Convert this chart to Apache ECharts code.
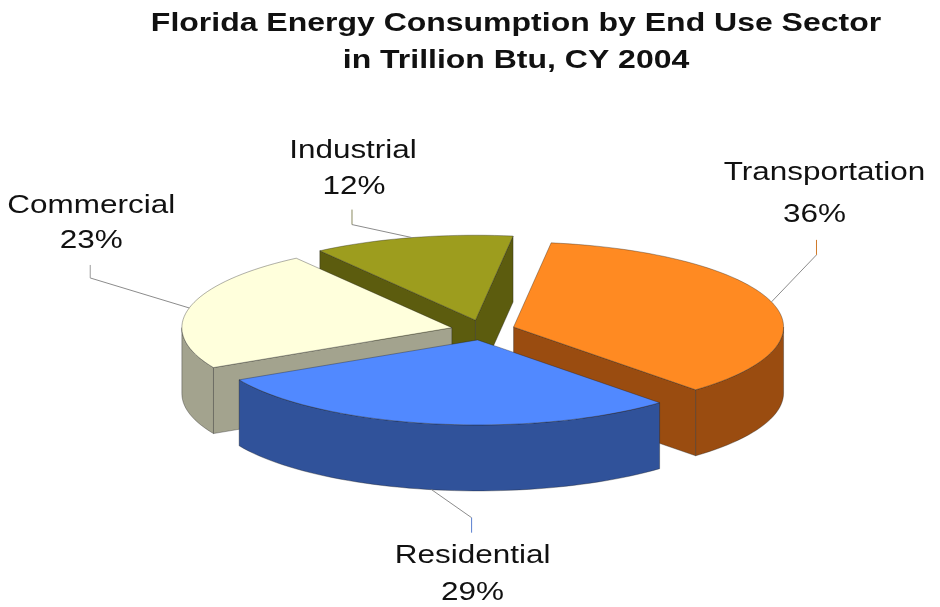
<!DOCTYPE html>
<html>
<head>
<meta charset="utf-8">
<style>
  html, body { margin: 0; padding: 0; background: #fff; }
  #chart { width: 940px; height: 607px; }
</style>
<script src="https://cdn.jsdelivr.net/npm/echarts@6/dist/echarts.min.js"></script>
</head>
<body>
<div id="chart"></div>
<script>
const titleLines = ['Florida Energy Consumption by End Use Sector', 'in Trillion Btu, CY 2004'];
const sectors = ['Transportation', 'Residential', 'Commercial', 'Industrial'];
const shares = [36, 29, 23, 12];

const topColors = ['#ff8a22', '#5189ff', '#ffffdc', '#9d9d1e'];
const sideColors = ['#9a4c10', '#30529a', '#a3a38e', '#5c5c0e'];
const stubColors = ['#d07a2a', '#5a7fd0', '#9a9a9a', '#8a8a60'];

// label placement: elbow offset from slice edge, stub length, text offsets from stub end
const labelLayout = [
  { elbow: [45, -47], stub: -15, name: [8, -67], pct: [-2, -25] },
  { elbow: [40, 28], stub: 15, name: [1, 23], pct: [1, 60] },
  { elbow: [-99, -30], stub: -13, name: [1, -59], pct: [1, -24] },
  { elbow: [-60, -13], stub: -15, name: [1, -59], pct: [2, -23] }
];

const pie = { cx: 483, cy: 330, rx: 270, ry: 85, depth: 66, explode: 32, startAngle: 82 };
const font = '"Liberation Sans", Arial, sans-serif';
const stretch = 1.21;

const total = shares.reduce((a, b) => a + b, 0);
const starts = [];
let acc = pie.startAngle;
shares.forEach(v => { starts.push(acc); acc -= v / total * 360; });

const rad = Math.PI / 180;
// back slices first
const order = shares.map((v, i) => i).sort((a, b) => {
  const ma = starts[a] - shares[a] / total * 180, mb = starts[b] - shares[b] / total * 180;
  return Math.sin(mb * rad) - Math.sin(ma * rad);
});
const rank = [];
order.forEach((idx, r) => { rank[idx] = r; });

function renderSlice(params, api) {
  const i = params.dataIndex;
  const val = api.value(0);
  const hi = starts[i];
  const lo = hi - val / total * 360;
  const mid = (hi + lo) / 2;
  const k = pie.ry / pie.rx;
  const ax = pie.cx + pie.explode * Math.cos(mid * rad);
  const ay = pie.cy - pie.explode * k * Math.sin(mid * rad);
  const rim = (a, dz) => [ax + pie.rx * Math.cos(a * rad), ay - pie.ry * Math.sin(a * rad) + (dz || 0)];
  const arc = (a0, a1, dz) => {
    const n = Math.max(2, Math.ceil(Math.abs(a1 - a0) / 2));
    const pts = [];
    for (let j = 0; j <= n; j++) pts.push(rim(a0 + (a1 - a0) * j / n, dz));
    return pts;
  };
  const z = rank[i] * 10;
  const edge = { stroke: 'rgba(30,30,30,0.5)', lineWidth: 0.7 };
  const side = Object.assign({ fill: sideColors[i] }, edge);
  const kids = [];
  const d = pie.depth;

  if (Math.cos(hi * rad) < 0) {
    kids.push({ type: 'polygon', z2: z, shape: { points: [[ax, ay], rim(hi), rim(hi, d), [ax, ay + d]] }, style: side });
  }
  if (Math.cos(lo * rad) > 0) {
    kids.push({ type: 'polygon', z2: z, shape: { points: [[ax, ay], rim(lo), rim(lo, d), [ax, ay + d]] }, style: side });
  }
  for (let m = -2; m <= 1; m++) {
    const f0 = Math.min(hi, 360 * m), f1 = Math.max(lo, 360 * m - 180);
    if (f0 > f1) {
      kids.push({ type: 'polygon', z2: z + 1, shape: { points: arc(f0, f1, 0).concat(arc(f1, f0, d)) }, style: side });
    }
  }
  kids.push({
    type: 'polygon', z2: z + 2,
    shape: { points: [[ax, ay]].concat(arc(hi, lo, 0)) },
    style: Object.assign({ fill: topColors[i] }, edge)
  });

  // leader line and label
  const lay = labelLayout[i];
  const anchor = rim(mid, Math.sin(mid * rad) < 0 ? d : 0);
  const elbow = [anchor[0] + lay.elbow[0], anchor[1] + lay.elbow[1]];
  const end = [elbow[0], elbow[1] + lay.stub];
  kids.push({ type: 'polyline', z2: 100, shape: { points: [anchor, elbow] }, style: { stroke: '#8c8c8c', lineWidth: 1, fill: null } });
  kids.push({ type: 'polyline', z2: 100, shape: { points: [elbow, end] }, style: { stroke: stubColors[i], lineWidth: 1, fill: null } });
  const txt = (s, off) => ({
    type: 'text', z2: 101,
    x: end[0] + off[0], y: end[1] + off[1], scaleX: stretch,
    style: { text: s, fontSize: 26, fontFamily: font, fill: '#111', align: 'center', verticalAlign: 'middle' }
  });
  kids.push(txt(sectors[i], lay.name));
  kids.push(txt(shares[i] + '%', lay.pct));

  return { type: 'group', children: kids };
}

const chart = echarts.init(document.getElementById('chart'));
chart.setOption({
  animation: false,
  backgroundColor: '#fff',
  graphic: titleLines.map((t, j) => ({
    type: 'text',
    x: 516, y: 24 + j * 37, scaleX: 1.23,
    style: { text: t, fontSize: 26, fontWeight: 'bold', fontFamily: font, fill: '#111', align: 'center', verticalAlign: 'middle' }
  })),
  series: [{
    type: 'custom',
    coordinateSystem: 'none',
    silent: true,
    renderItem: renderSlice,
    data: shares.map(v => [v])
  }]
});
</script>
</body>
</html>
